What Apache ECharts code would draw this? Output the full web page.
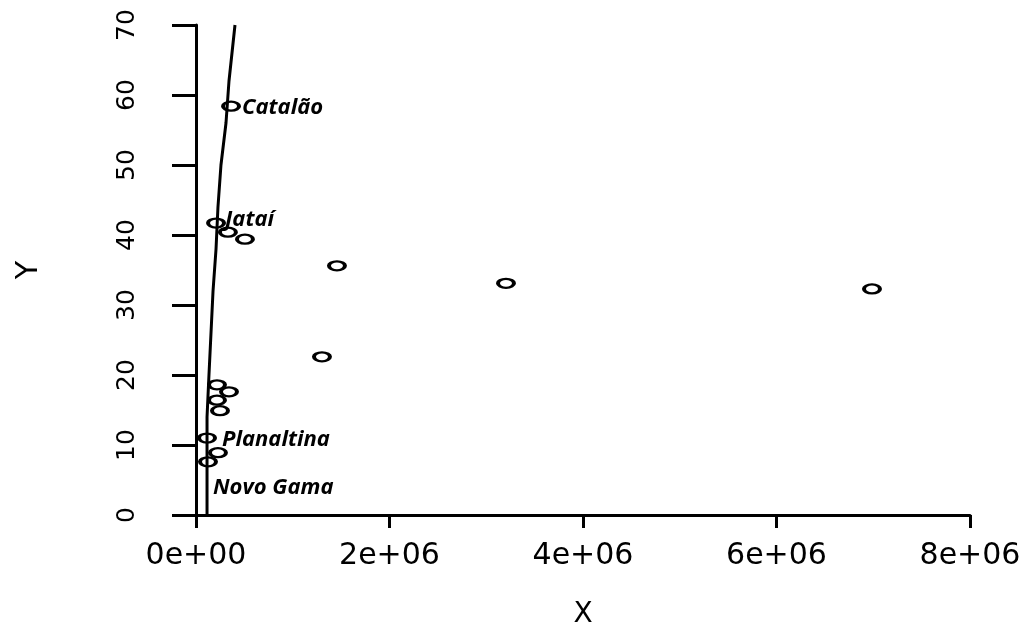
<!DOCTYPE html>
<html>
<head>
<meta charset="utf-8">
<script src="https://cdn.jsdelivr.net/npm/echarts@6/dist/echarts.min.js"></script>
<style>
html,body{margin:0;padding:0;background:#fff;}
#main{width:1028px;height:627px;}
</style>
</head>
<body>
<div id="main"></div>
<script>
// pontos (x em unidades de 1e6)
var pointX = [0.362, 0.207, 0.33, 0.506, 1.457, 3.204, 6.987, 1.302, 0.217, 0.341, 0.217, 0.248, 0.114, 0.227, 0.124];
var pointY = [58.4, 41.7, 40.4, 39.4, 35.6, 33.1, 32.3, 22.6, 18.6, 17.6, 16.4, 14.9, 11.0, 8.9, 7.6];
var pointName = ['Catalão', 'Jataí', '', '', '', '', '', '', '', '', '', '', 'Planaltina', '', 'Novo Gama'];
// curva ajustada
var fitX = [0.114, 0.114, 0.134, 0.155, 0.176, 0.207, 0.227, 0.258, 0.31, 0.341, 0.403];
var fitY = [0, 14, 20, 26, 32, 38, 44, 50, 56, 62, 70];

// deslocamento dos rotulos
var labelOffset = {
	'Catalão': [-4, 2],
	'Jataí': [-6, -3],
	'Planaltina': [0, 2],
	'Novo Gama': [-10, 26]
};

function sciLabel(v) {
	if (v === 0) return '0e+00';
	var e = Math.floor(Math.log10(v) + 1e-9);
	var m = Math.round(v / Math.pow(10, e));
	return m + 'e+' + (e < 10 ? '0' : '') + e;
}

var myChart = echarts.init(document.getElementById('main'));

var option = {
	backgroundColor: '#fff',
	animation: false,
	grid: {left: 196, right: 58, top: 25, bottom: 112, containLabel: false, outerBoundsMode: 'none'},
	xAxis: {
		type: 'value',
		min: 0,
		max: 8e6,
		interval: 2e6,
		name: 'X',
		nameLocation: 'middle',
		nameGap: 86,
		nameTextStyle: {fontFamily: 'DejaVu Sans', fontSize: 28, color: '#000'},
		axisLine: {lineStyle: {color: '#000', width: 3}},
		axisTick: {length: 13, lineStyle: {color: '#000', width: 3}},
		axisLabel: {
			margin: 26,
			fontFamily: 'DejaVu Sans',
			fontSize: 30,
			color: '#000',
			formatter: sciLabel
		},
		splitLine: {show: false}
	},
	yAxis: {
		type: 'value',
		min: 0,
		max: 70,
		interval: 10,
		name: 'Y',
		nameLocation: 'middle',
		nameRotate: 90,
		nameGap: 152,
		nameTextStyle: {fontFamily: 'DejaVu Sans', fontSize: 30, color: '#000'},
		axisLine: {lineStyle: {color: '#000', width: 3}},
		axisTick: {length: 24, lineStyle: {color: '#000', width: 3}},
		axisLabel: {
			rotate: 90,
			margin: 56,
			fontFamily: 'DejaVu Sans',
			fontSize: 25,
			color: '#000'
		},
		splitLine: {show: false}
	},
	series: [{
		type: 'line',
		data: fitX.map(function(x, i) { return [x * 1e6, fitY[i]]; }),
		showSymbol: false,
		symbol: 'none',
		lineStyle: {color: '#000', width: 3},
		z: 2
	}, {
		type: 'scatter',
		symbol: 'path://M0,4.5A8.5,4.5 0 1 1 17,4.5A8.5,4.5 0 1 1 0,4.5Z',
		symbolSize: [16, 9],
		itemStyle: {color: 'rgba(0,0,0,0)', borderColor: '#000', borderWidth: 3, opacity: 1},
		data: pointX.map(function(x, i) {
			var item = {value: [x * 1e6, pointY[i]], name: pointName[i]};
			if (pointName[i]) {
				item.label = {
					show: true,
					position: 'right',
					distance: 5,
					offset: labelOffset[pointName[i]],
					formatter: '{b}',
					fontFamily: 'Open Sans',
					fontStyle: 'italic',
					fontWeight: 'bold',
					fontSize: 22,
					color: '#000'
				};
			}
			return item;
		}),
		z: 3
	}]
};
myChart.setOption(option);
</script>
</body>
</html>
